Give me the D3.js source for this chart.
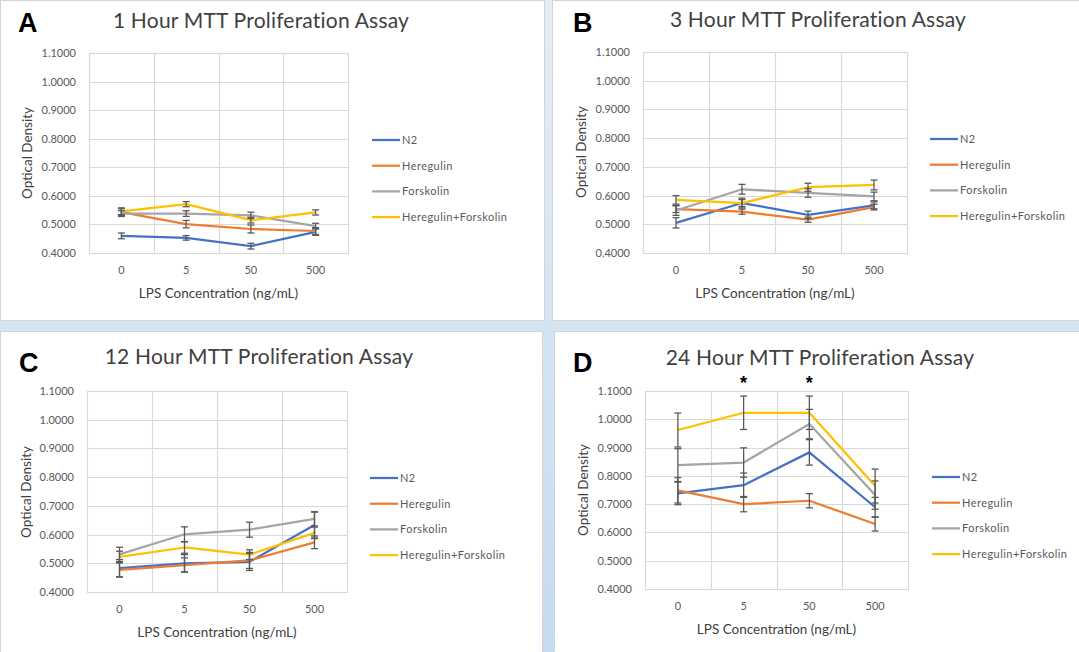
<!DOCTYPE html>
<html lang="en">
<head>
    <meta charset="UTF-8">
    <title>MTT Proliferation Assay</title>
    <script src="https://d3js.org/d3.v7.min.js"></script>
    <style>
        body { margin: 0; overflow: hidden; }
        svg { display: block; font-family: Lato, "Open Sans", sans-serif; }
    </style>
</head>
<body>
    <script>
    // categories and series
    const categories = ["0", "5", "50", "500"];
    const seriesNames = ["N2", "Heregulin", "Forskolin", "Heregulin+Forskolin"];
    const seriesColors = ["#4472C4", "#ED7D31", "#A5A5A5", "#FFC000"];
    const yTicks = [0.4, 0.5, 0.6, 0.7, 0.8, 0.9, 1.0, 1.1];

    const titles = ["1 Hour MTT Proliferation Assay", "3 Hour MTT Proliferation Assay",
                    "12 Hour MTT Proliferation Assay", "24 Hour MTT Proliferation Assay"];
    const letters = ["A", "B", "C", "D"];

    // means, one row per series (N2, Heregulin, Forskolin, Heregulin+Forskolin)
    const mean1h = [[0.460, 0.453, 0.424, 0.474],
                    [0.543, 0.501, 0.484, 0.477],
                    [0.538, 0.538, 0.532, 0.494],
                    [0.546, 0.571, 0.515, 0.542]];
    const err1h  = [[0.010, 0.008, 0.010, 0.012],
                    [0.012, 0.013, 0.014, 0.012],
                    [0.010, 0.010, 0.011, 0.010],
                    [0.012, 0.009, 0.010, 0.009]];

    const mean3h = [[0.505, 0.574, 0.533, 0.566],
                    [0.553, 0.544, 0.516, 0.560],
                    [0.548, 0.622, 0.609, 0.597],
                    [0.585, 0.574, 0.629, 0.637]];
    const err3h  = [[0.018, 0.017, 0.013, 0.012],
                    [0.012, 0.009, 0.009, 0.010],
                    [0.017, 0.017, 0.015, 0.015],
                    [0.015, 0.012, 0.014, 0.017]];

    const mean12h = [[0.483, 0.500, 0.505, 0.633],
                     [0.477, 0.494, 0.510, 0.573],
                     [0.531, 0.601, 0.617, 0.655],
                     [0.522, 0.555, 0.530, 0.606]];
    const err12h  = [[0.030, 0.030, 0.030, 0.045],
                     [0.025, 0.025, 0.028, 0.022],
                     [0.025, 0.026, 0.026, 0.025],
                     [0.020, 0.020, 0.017, 0.020]];

    const mean24h = [[0.738, 0.767, 0.883, 0.689],
                     [0.749, 0.700, 0.712, 0.630],
                     [0.838, 0.847, 0.983, 0.732],
                     [0.962, 1.023, 1.023, 0.764]];
    const err24h  = [[0.040, 0.043, 0.045, 0.035],
                     [0.045, 0.027, 0.025, 0.025],
                     [0.058, 0.052, 0.052, 0.050],
                     [0.060, 0.059, 0.059, 0.060]];

    const significant24h = ["5", "50"];

    const means = [mean1h, mean3h, mean12h, mean24h];
    const errs = [err1h, err3h, err12h, err24h];

    // layout of each panel
    const panels = [
        { box: [0, 0, 545, 321], plot: [89, 53, 348, 253], legend: [372, 140], title: [261, 28], letter: [18, 32], ylab: [28, 153] },
        { box: [552, 0, 540, 321], plot: [643, 52, 907, 253], legend: [930, 139], title: [818, 27], letter: [573, 32], ylab: [582, 152] },
        { box: [0, 331, 543, 330], plot: [87, 391, 347, 592], legend: [370, 478], title: [259, 364], letter: [19, 372], ylab: [27, 492] },
        { box: [554, 331, 540, 330], plot: [645, 391, 908, 589], legend: [932, 477], title: [820, 365], letter: [573, 372], ylab: [584, 490] }
    ];

    const W = 1079, H = 652;
    const svg = d3.select("body").append("svg")
        .attr("width", W)
        .attr("height", H);

    const grad = svg.append("defs").append("linearGradient")
        .attr("id", "bg").attr("x1", 0).attr("y1", 0).attr("x2", 0).attr("y2", 1);
    grad.append("stop").attr("offset", "0%").attr("stop-color", "#e4edf7");
    grad.append("stop").attr("offset", "100%").attr("stop-color", "#c6dbef");

    svg.append("rect").attr("width", W).attr("height", H).attr("fill", "url(#bg)");

    panels.forEach((p, i) => {
        const g = svg.append("g");

        g.append("rect")
            .attr("x", p.box[0] + 0.5).attr("y", p.box[1] + 0.5)
            .attr("width", p.box[2] - 1).attr("height", p.box[3] - 1)
            .attr("fill", "#fff").attr("stroke", "#d4d4d4");

        const [x0, y0, x1, y1] = p.plot;

        const x = d3.scaleBand().domain(categories).range([x0, x1]);
        const y = d3.scaleLinear().domain([0.4, 1.1]).range([y1, y0]);

        // horizontal gridlines
        g.append("g").selectAll("line").data(yTicks).join("line")
            .attr("x1", x0).attr("x2", x1)
            .attr("y1", d => Math.round(y(d)) + 0.5).attr("y2", d => Math.round(y(d)) + 0.5)
            .attr("stroke", "#d9d9d9").attr("stroke-width", 1.2);

        // vertical gridlines between categories
        g.append("g").selectAll("line").data(categories.slice(1)).join("line")
            .attr("x1", d => Math.round(x(d)) + 0.5).attr("x2", d => Math.round(x(d)) + 0.5)
            .attr("y1", y0).attr("y2", y1)
            .attr("stroke", "#d9d9d9").attr("stroke-width", 1.2);

        g.append("rect")
            .attr("x", x0 + 0.5).attr("y", y0 + 0.5)
            .attr("width", x1 - x0).attr("height", y1 - y0)
            .attr("fill", "none").attr("stroke", "#d9d9d9").attr("stroke-width", 1.2);

        // y tick labels
        g.append("g").selectAll("text").data(yTicks).join("text")
            .attr("x", x0 - 13).attr("y", d => y(d) + 4)
            .attr("text-anchor", "end")
            .attr("font-size", 11).attr("fill", "#595959")
            .text(d => d.toFixed(4));

        // x tick labels
        g.append("g").selectAll("text").data(categories).join("text")
            .attr("x", d => x(d) + x.bandwidth() / 2).attr("y", y1 + 21)
            .attr("text-anchor", "middle")
            .attr("font-size", 11).attr("fill", "#595959")
            .text(d => d);

        // axis titles
        g.append("text")
            .attr("x", (x0 + x1) / 2).attr("y", y1 + 45)
            .attr("text-anchor", "middle")
            .attr("font-size", 13.5).attr("fill", "#404040")
            .text("LPS Concentration (ng/mL)");

        g.append("text")
            .attr("transform", `translate(${p.ylab[0] + 4},${p.ylab[1]}) rotate(-90)`)
            .attr("text-anchor", "middle")
            .attr("font-size", 13.5).attr("fill", "#404040")
            .text("Optical Density");

        // chart title and panel letter
        g.append("text")
            .attr("x", p.title[0]).attr("y", p.title[1])
            .attr("text-anchor", "middle")
            .attr("font-size", 21).attr("letter-spacing", 0.2).attr("fill", "#404040")
            .text(titles[i]);

        g.append("text")
            .attr("x", p.letter[0]).attr("y", p.letter[1])
            .attr("font-family", "'Liberation Sans', Arial, sans-serif")
            .attr("font-weight", "bold").attr("font-size", 27).attr("fill", "#000")
            .text(letters[i]);

        // series lines
        const line = d3.line()
            .x((d, k) => x(categories[k]) + x.bandwidth() / 2)
            .y(d => y(d));

        means[i].forEach((vals, s) => {
            g.append("path")
                .datum(vals)
                .attr("d", line)
                .attr("fill", "none")
                .attr("stroke", seriesColors[s])
                .attr("stroke-width", 2.25)
                .attr("stroke-linejoin", "round");
        });

        // error bars
        means[i].forEach((vals, s) => {
            const eb = g.append("g").attr("stroke", "#595959").attr("stroke-width", 1.3);
            vals.forEach((v, k) => {
                const cx = x(categories[k]) + x.bandwidth() / 2;
                const e = errs[i][s][k];
                eb.append("line").attr("x1", cx).attr("x2", cx)
                    .attr("y1", y(v - e)).attr("y2", y(v + e));
                eb.append("line").attr("x1", cx - 3.5).attr("x2", cx + 3.5)
                    .attr("y1", y(v - e)).attr("y2", y(v - e));
                eb.append("line").attr("x1", cx - 3.5).attr("x2", cx + 3.5)
                    .attr("y1", y(v + e)).attr("y2", y(v + e));
            });
        });

        // legend
        const lg = g.append("g").attr("transform", `translate(${p.legend[0]},${p.legend[1]})`);
        seriesNames.forEach((name, s) => {
            lg.append("line")
                .attr("x1", 0).attr("x2", 28)
                .attr("y1", s * 25.7).attr("y2", s * 25.7)
                .attr("stroke", seriesColors[s]).attr("stroke-width", 2.25);
            lg.append("text")
                .attr("x", 30).attr("y", s * 25.7 + 4)
                .attr("font-size", 11).attr("letter-spacing", 0.45).attr("fill", "#595959")
                .text(name);
        });

        // significance marks on the 24 hour panel
        if (i === 3) {
            g.append("g").selectAll("text").data(significant24h).join("text")
                .attr("x", d => x(d) + x.bandwidth() / 2).attr("y", y0 - 2)
                .attr("text-anchor", "middle")
                .attr("font-family", "'Liberation Sans', Arial, sans-serif")
                .attr("font-weight", "bold").attr("font-size", 18).attr("fill", "#000")
                .text("*");
        }
    });
    </script>
</body>
</html>
